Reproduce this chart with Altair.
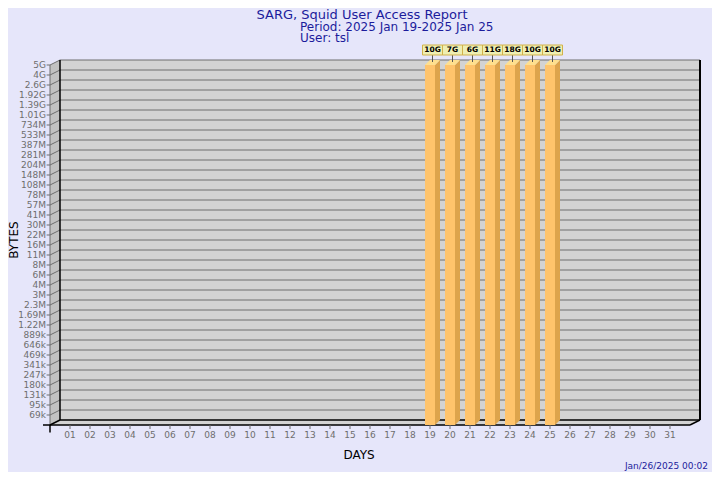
import altair as alt
import pandas as pd

# ---------------- data ----------------
days = [19, 20, 21, 22, 23, 24, 25]
bytes_gb = [10, 7, 6, 11, 18, 10, 10]
bar_labels = ["10G", "7G", "6G", "11G", "18G", "10G", "10G"]
y_labels = ["69k", "95k", "131k", "180k", "247k", "341k", "469k", "646k", "889k",
            "1.22M", "1.69M", "2.3M", "3M", "4M", "6M", "8M", "11M", "16M", "22M",
            "30M", "41M", "57M", "78M", "108M", "148M", "204M", "281M", "387M",
            "533M", "734M", "1.01G", "1.39G", "1.92G", "2.6G", "4G", "5G"]
x_days = list(range(1, 32))
x_labels = [f"{d:02d}" for d in x_days]
title_main = "SARG, Squid User Access Report"
title_period = "Period: 2025 Jan 19-2025 Jan 25"
title_user = "User: tsl"
x_title = "DAYS"
y_title = "BYTES"
stamp = "Jan/26/2025 00:02"

# ---------------- style ----------------
BG = "#E6E6FA"
WALL = "#D3D3D3"
SIDE = "#C2C2C2"
GRID = "#6E6E6E"
LAB = "#6E6E6E"
NAVY = "#1C1C9C"
FRONT = "#FFC46C"
BSIDE = "#DDA44C"
BTOP = "#FFE08E"
FONT = "DejaVu Sans"

NX, NY = 32, 36


def xs():
    return alt.Scale(domain=[0, NX], nice=False, zero=False)


def ys():
    return alt.Scale(domain=[0, NY], nice=False, zero=False)


def X(f="x"):
    return alt.X(f"{f}:Q", scale=xs(), axis=None)


def Y(f="y"):
    return alt.Y(f"{f}:Q", scale=ys(), axis=None)


one = pd.DataFrame({"a": [0]})
layers = []


def seg(x, y, x2=None, y2=None, color="black", width=1.0):
    d = {"x": [x], "y": [y]}
    enc = {"x": X(), "y": Y()}
    if x2 is not None:
        d["x2"] = [x2]
        enc["x2"] = "x2:Q"
    if y2 is not None:
        d["y2"] = [y2]
        enc["y2"] = "y2:Q"
    return alt.Chart(pd.DataFrame(d)).mark_rule(color=color, strokeWidth=width).encode(**enc)


# floor
floor = pd.DataFrame({"y": [0, 0.5], "x": [0, 0.5], "x2": [NX, NX + 0.5]})
layers.append(alt.Chart(floor).mark_area(orient="horizontal", color=WALL).encode(
    y=Y(), x=X(), x2="x2:Q"))
# left wall
lw = pd.DataFrame({"x": [0, 0.5], "y": [0, 0.5], "y2": [NY, NY + 0.5]})
layers.append(alt.Chart(lw).mark_area(orient="vertical", color=SIDE).encode(
    x=X(), y=Y(), y2="y2:Q"))
# back wall
bw = pd.DataFrame({"x": [0.5], "x2": [NX + 0.5], "y": [0.5], "y2": [NY + 0.5]})
layers.append(alt.Chart(bw).mark_rect(color=WALL).encode(x=X(), x2="x2:Q", y=Y(), y2="y2:Q"))

# grid lines on back wall and diagonals on the left wall
lv = list(range(1, NY + 1))
grid = pd.DataFrame({"x": [0.5] * NY, "x2": [NX + 0.5] * NY, "y": [L + 0.5 for L in lv]})
layers.append(alt.Chart(grid).mark_rule(color=GRID, strokeWidth=1).encode(
    x=X(), x2="x2:Q", y=Y()))
diag = pd.DataFrame({"x": [0] * NY, "x2": [0.5] * NY, "y": lv, "y2": [L + 0.5 for L in lv]})
layers.append(alt.Chart(diag).mark_rule(color=GRID, strokeWidth=1).encode(
    x=X(), x2="x2:Q", y=Y(), y2="y2:Q"))
# edges
layers.append(seg(0, 0, y2=NY, color=GRID))
layers.append(seg(0.5, 0.5, x2=NX + 0.5, color="black", width=1.5))
layers.append(seg(0.5, 0.5, y2=NY + 0.5, color="black", width=1.5))
layers.append(seg(NX + 0.5, 0.5, y2=NY + 0.5, color="black", width=2))
layers.append(seg(0, 0, x2=0.5, y2=0.5, color="black", width=1.5))
layers.append(seg(NX, 0, x2=NX + 0.5, y2=0.5, color="black", width=1.5))
# x axis line and corner cross
layers.append(seg(-0.35, 0, x2=NX, color="black", width=1.5))
layers.append(seg(0, -0.75, y2=0, color="black", width=1.5))

# x ticks & labels
xt = pd.DataFrame({"x": x_days, "y": [0] * 31, "y2": [-0.4] * 31, "yl": [-0.95] * 31,
                   "lab": x_labels})
layers.append(alt.Chart(xt).mark_rule(color=LAB).encode(x=X(), y=Y(), y2="y2:Q"))
layers.append(alt.Chart(xt).mark_text(font=FONT, fontSize=9, color=LAB, baseline="middle").encode(
    x=X(), y=Y("yl"), text="lab:N"))

# y ticks & labels
yt = pd.DataFrame({"y": lv, "x": [-0.17] * NY, "x2": [0] * NY, "xl": [-0.2] * NY, "lab": y_labels})
layers.append(alt.Chart(yt).mark_rule(color=LAB).encode(x=X(), x2="x2:Q", y=Y()))
layers.append(alt.Chart(yt).mark_text(font=FONT, fontSize=9, color=LAB, align="right",
                                      baseline="middle").encode(
    x=X("xl"), y=Y(), text="lab:N"))

# ---------------- bars ----------------
bars = pd.DataFrame({"day": days, "gb": bytes_gb, "lab": bar_labels})
lvl = "min(36, 1 + 35 * log(datum.gb * 1e9 / 69e3) / log(5e9 / 69e3))"
base = alt.Chart(bars).transform_calculate(lvl=lvl)
layers.append(base.transform_calculate(x="datum.day - 0.25", x2="datum.day + 0.25", y="0")
              .mark_rect(color=FRONT).encode(x=X(), x2="x2:Q", y=Y(), y2="lvl:Q"))

long = pd.DataFrame({"day": [d for d in days for _ in (0, 1)],
                     "gb": [g for g in bytes_gb for _ in (0, 1)],
                     "k": [0, 1] * len(days)})
lbase = alt.Chart(long).transform_calculate(lvl=lvl)
layers.append(lbase.transform_calculate(
    x="datum.day + 0.25 + 0.25 * datum.k", y="0.5 * datum.k", y2="datum.lvl + 0.5 * datum.k")
    .mark_area(orient="vertical", color=BSIDE).encode(x=X(), y=Y(), y2="y2:Q", detail="day:N"))
layers.append(lbase.transform_calculate(
    y="datum.lvl + 0.5 * datum.k", x="datum.day - 0.25 + 0.25 * datum.k",
    x2="datum.day + 0.25 + 0.25 * datum.k")
    .mark_area(orient="horizontal", color=BTOP).encode(y=Y(), x=X(), x2="x2:Q", detail="day:N"))

# value boxes
layers.append(base.transform_calculate(x="datum.day + 0.125", y="36.3", y2="37")
              .mark_rule(color="#555555").encode(x=X(), y=Y(), y2="y2:Q"))
layers.append(base.transform_calculate(x="datum.day - 0.375", x2="datum.day + 0.625",
                                       y="37", y2="38")
              .mark_rect(fill="#EEEEB2", stroke="#D2B24A", strokeWidth=1).encode(
    x=X(), x2="x2:Q", y=Y(), y2="y2:Q"))
layers.append(base.transform_calculate(x="datum.day + 0.125", y="37.5")
              .mark_text(font=FONT, fontSize=7.5, fontWeight="bold", color="black", baseline="middle")
              .encode(x=X(), y=Y(), text="lab:N"))


# ---------------- texts ----------------
def txt(s, x, y, **kw):
    return alt.Chart(one).mark_text(font=FONT, **kw).encode(
        x=alt.value(x), y=alt.value(y), text=alt.value(s))


layers.append(txt(title_main, 312, -50, fontSize=13, color=NAVY, align="center", baseline="middle"))
layers.append(txt(title_period, 250, -38, fontSize=12, color=NAVY, align="left", baseline="middle"))
layers.append(txt(title_user, 250, -27, fontSize=12, color=NAVY, align="left", baseline="middle"))
layers.append(txt(x_title, 309, 390, fontSize=12, color="black", align="center", baseline="middle"))
layers.append(txt(y_title, -36, 175, fontSize=12, color="black", align="center", baseline="middle",
                  angle=270))
layers.append(txt(stamp, 658, 401, fontSize=9, color=NAVY, align="right", baseline="middle"))

chart = alt.layer(*layers).properties(
    width=640, height=360,
    autosize=alt.AutoSizeParams(type="none"),
    padding={"left": 42, "top": 57, "right": 22, "bottom": 47},
).configure(background=BG).configure_view(stroke=None)

chart.save("out.html", embed_options={"renderer": "svg", "actions": False})
